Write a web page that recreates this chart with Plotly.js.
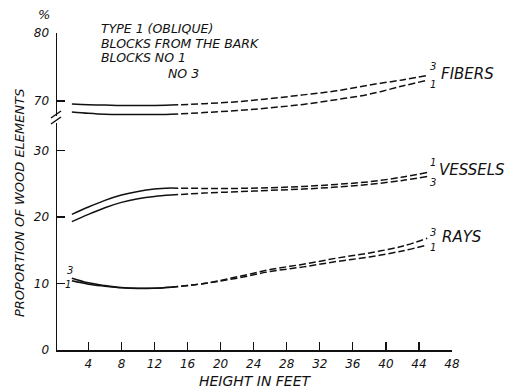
<!DOCTYPE html>
<html>
<head>
<meta charset="utf-8">
<script src="https://cdn.plot.ly/plotly-3.0.1.min.js"></script>
<style>html,body{margin:0;padding:0;background:#fff;}#chart{width:511px;height:389px;}</style>
</head>
<body>
<div id="chart"></div>
<script>
// Height in feet (sample points along the curves)
var heights = [2, 4, 6, 8, 10, 12, 14, 18, 22, 26, 30, 34, 38, 42, 45];
// index where the drawn line changes from solid to dashed
var solidEndIndex = 6;

// Fibers (upper scale, %)
var fibersBlock3 = [69.55, 69.45, 69.4, 69.35, 69.35, 69.35, 69.4, 69.6, 69.9, 70.35, 70.9, 71.5, 72.35, 73.1, 73.75];
var fibersBlock1 = [68.4, 68.2, 68.05, 68.0, 68.0, 68.0, 68.05, 68.3, 68.6, 69.0, 69.5, 70.2, 71.0, 72.2, 73.05];
// Vessels (%)
var vesselsBlock1 = [20.4, 21.5, 22.5, 23.3, 23.85, 24.2, 24.35, 24.3, 24.3, 24.4, 24.6, 24.9, 25.3, 26.0, 26.7];
var vesselsBlock3 = [19.3, 20.4, 21.4, 22.2, 22.75, 23.1, 23.3, 23.6, 23.8, 24.0, 24.2, 24.5, 24.9, 25.5, 26.1];
// Rays (%)
var raysBlock3 = [10.8, 10.1, 9.7, 9.4, 9.3, 9.3, 9.45, 10.0, 11.0, 12.1, 12.9, 13.8, 14.6, 15.6, 16.8];
var raysBlock1 = [10.4, 9.9, 9.6, 9.35, 9.25, 9.3, 9.45, 10.0, 10.8, 11.8, 12.5, 13.3, 14.0, 14.9, 15.8];

var xTicks = [4, 8, 12, 16, 20, 24, 28, 32, 36, 40, 44, 48];
var yLowerTicks = [0, 10, 20, 30];
var yUpperTicks = [70, 80];

var headerLines = ["TYPE 1 (OBLIQUE)", "BLOCKS FROM THE BARK", "BLOCKS NO 1", "NO 3"];

var FONT = "DejaVu Sans";
var ink = "#111";

function seriesTraces(values, axis, name) {
  var solidX = heights.slice(0, solidEndIndex + 1);
  var solidY = values.slice(0, solidEndIndex + 1);
  var dashX = heights.slice(solidEndIndex);
  var dashY = values.slice(solidEndIndex);
  return [
    {x: solidX, y: solidY, yaxis: axis, mode: "lines", name: name, showlegend: false,
     line: {color: ink, width: 1.5, shape: "spline", smoothing: 1}, hoverinfo: "skip"},
    {x: dashX, y: dashY, yaxis: axis, mode: "lines", name: name, showlegend: false,
     line: {color: ink, width: 1.5, shape: "spline", smoothing: 1, dash: "7px,3px"}, hoverinfo: "skip"}
  ];
}

var traces = [].concat(
  seriesTraces(fibersBlock3, "y2", "Fibers block 3"),
  seriesTraces(fibersBlock1, "y2", "Fibers block 1"),
  seriesTraces(vesselsBlock1, "y", "Vessels block 1"),
  seriesTraces(vesselsBlock3, "y", "Vessels block 3"),
  seriesTraces(raysBlock3, "y", "Rays block 3"),
  seriesTraces(raysBlock1, "y", "Rays block 1")
);

var tickFont = {family: FONT, size: 12, color: ink, style: "italic"};
var textFont = {family: FONT, size: 12.5, color: ink, style: "italic"};
var smallFont = {family: FONT, size: 10, color: ink, style: "italic"};
var labelFont = {family: FONT, size: 15, color: ink, style: "italic"};

var L = 57, R = 59, T = 33, B = 39;
var W = 511, H = 389;
var pw = W - L - R, ph = H - T - B;
function px2paperX(p) { return (p - L) / pw; }
function px2paperY(p) { return (H - B - p) / ph; }

var annotations = [];
// header block
var headerPos = [[100, 28], [100, 43], [100, 58], [167, 73]];
headerLines.forEach(function (t, i) {
  annotations.push({text: t, xref: "paper", yref: "paper", x: px2paperX(headerPos[i][0]), y: px2paperY(headerPos[i][1]),
    xanchor: "left", yanchor: "middle", showarrow: false, font: textFont, borderpad: 0});
});
annotations.push({text: "%", xref: "paper", yref: "paper", x: px2paperX(44), y: px2paperY(15),
  xanchor: "center", yanchor: "middle", showarrow: false, font: {family: FONT, size: 13, color: ink, style: "italic"}, borderpad: 0});
annotations.push({text: "PROPORTION OF WOOD ELEMENTS", xref: "paper", yref: "paper", x: px2paperX(19), y: px2paperY(203),
  xanchor: "center", yanchor: "middle", textangle: -90, showarrow: false, borderpad: 0,
  font: {family: FONT, size: 13, color: ink, style: "italic"}});

// end labels
function endLabel(text, x, y, axis, font, anchor) {
  annotations.push({text: text, xref: "x", yref: axis, x: x, y: y, xanchor: anchor || "left", yanchor: "middle",
    showarrow: false, font: font, borderpad: 0});
}
endLabel("3", 45.2, 75.1, "y2", smallFont);
endLabel("1", 45.2, 72.5, "y2", smallFont);
endLabel("FIBERS", 46.5, 74.0, "y2", labelFont);
endLabel("1", 45.2, 28.2, "y", smallFont);
endLabel("3", 45.2, 25.2, "y", smallFont);
endLabel("VESSELS", 46.3, 27.1, "y", labelFont);
endLabel("3", 45.2, 17.7, "y", smallFont);
endLabel("1", 45.2, 15.4, "y", smallFont);
endLabel("RAYS", 46.7, 17.0, "y", labelFont);
// start labels for rays
endLabel("3", 1.75, 11.9, "y", smallFont, "center");
endLabel("1", 1.5, 9.8, "y", smallFont, "center");

var shapes = [
  {type: "line", xref: "paper", yref: "paper", x0: px2paperX(51), y0: px2paperY(118), x1: px2paperX(61), y1: px2paperY(111), line: {color: ink, width: 1.5}},
  {type: "line", xref: "paper", yref: "paper", x0: px2paperX(51), y0: px2paperY(124), x1: px2paperX(61), y1: px2paperY(117), line: {color: ink, width: 1.5}}
];

var layout = {
  width: W, height: H,
  margin: {l: L, r: R, t: T, b: B, pad: 0},
  paper_bgcolor: "#fff", plot_bgcolor: "#fff",
  showlegend: false,
  xaxis: {
    range: [0.2, 48], tickvals: xTicks, ticktext: xTicks.map(String),
    ticks: "inside", ticklen: 8, tickwidth: 1.3, tickcolor: ink,
    showline: true, linecolor: ink, linewidth: 1.5, showgrid: false, zeroline: false,
    tickfont: tickFont, ticklabelstandoff: 2,
    title: {text: "HEIGHT IN FEET", font: {family: FONT, size: 14, color: ink, style: "italic"}, standoff: 6},
    automargin: false
  },
  yaxis: {
    domain: [0, (H - B - 123) / ph], range: [0, (H - B - 123) / 6.65],
    tickvals: yLowerTicks, ticktext: yLowerTicks.map(String),
    ticks: "inside", ticklen: 8, tickwidth: 1.3, tickcolor: ink,
    showline: true, linecolor: ink, linewidth: 1.5, showgrid: false, zeroline: false,
    tickfont: tickFont, ticklabelstandoff: 4, automargin: false
  },
  yaxis2: {
    domain: [(H - B - 116) / ph, 1], range: [80 - (116 - T) / 6.8, 80],
    tickvals: yUpperTicks, ticktext: yUpperTicks.map(String),
    ticks: "inside", ticklen: 8, tickwidth: 1.3, tickcolor: ink,
    showline: true, linecolor: ink, linewidth: 1.5, showgrid: false, zeroline: false,
    tickfont: tickFont, ticklabelstandoff: 4, automargin: false, anchor: "x"
  },
  annotations: annotations,
  shapes: shapes
};

Plotly.newPlot("chart", traces, layout, {displayModeBar: false, staticPlot: true});
</script>
</body>
</html>
